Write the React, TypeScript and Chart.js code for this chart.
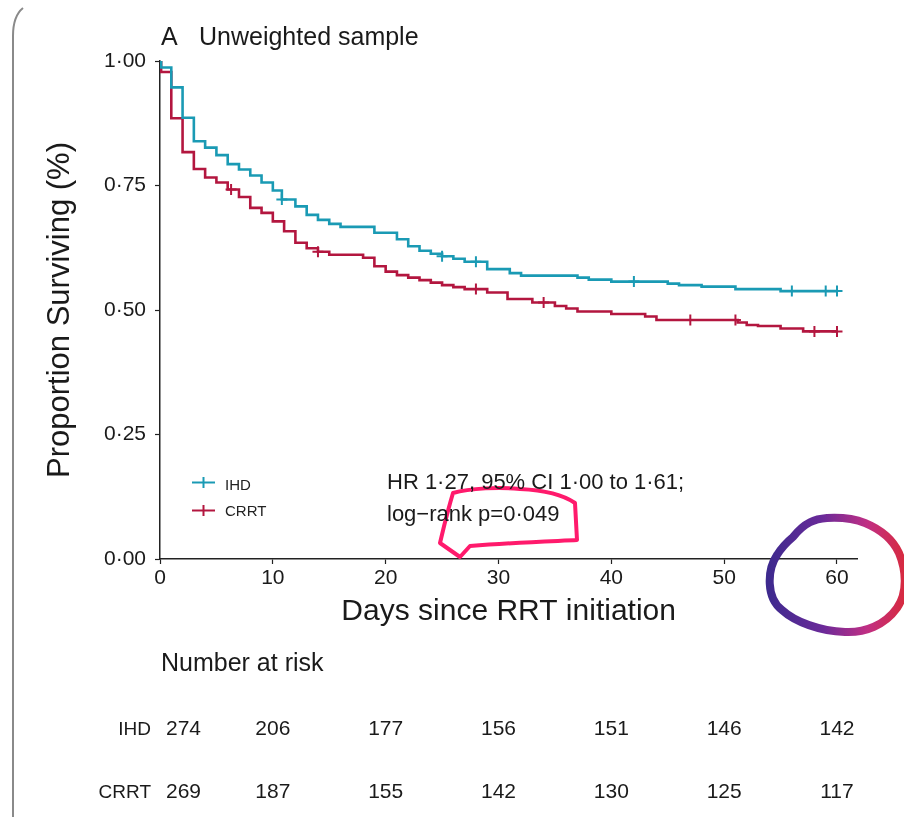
import React, { useEffect, useRef, useState } from "react";
import { Chart, registerables } from "chart.js";

Chart.register(...registerables);

// ---- data ----
const ihdDays = [0, 0.1, 1, 2, 3, 4, 5, 6, 7, 8, 9, 10, 10.8, 12, 13, 14, 15, 16, 19, 21, 22, 23, 24, 25, 26, 27, 29, 31, 32, 37, 38, 40, 45, 46, 48, 51, 55, 60];
const ihdSurv = [1.0, 0.987, 0.947, 0.886, 0.839, 0.826, 0.811, 0.793, 0.782, 0.77, 0.756, 0.74, 0.722, 0.708, 0.691, 0.681, 0.673, 0.667, 0.655, 0.642, 0.628, 0.619, 0.613, 0.608, 0.603, 0.597, 0.582, 0.574, 0.569, 0.565, 0.561, 0.557, 0.553, 0.55, 0.547, 0.542, 0.538, 0.538];
const ihdCensor = [10.8, 25, 28, 42, 56, 59, 60];

const crrtDays = [0, 0.1, 1, 2, 3, 4, 5, 6, 7, 8, 9, 10, 11, 12, 13, 14, 15, 18, 19, 20, 21, 22, 23, 24, 25, 26, 27, 29, 30.8, 33, 35, 36, 37, 40, 43, 44, 51.2, 52, 53, 55, 57, 60];
const crrtSurv = [1.0, 0.978, 0.885, 0.817, 0.783, 0.766, 0.756, 0.742, 0.727, 0.705, 0.695, 0.678, 0.658, 0.635, 0.624, 0.617, 0.611, 0.605, 0.588, 0.577, 0.57, 0.565, 0.56, 0.555, 0.55, 0.546, 0.542, 0.535, 0.522, 0.515, 0.508, 0.503, 0.497, 0.492, 0.487, 0.48, 0.475, 0.47, 0.468, 0.463, 0.457, 0.457];
const crrtCensor = [6.3, 14, 28, 34, 47, 51, 58, 60];

const xTicks = [0, 10, 20, 30, 40, 50, 60];
const yTicks = [0, 0.25, 0.5, 0.75, 1];

const riskDays = [0, 10, 20, 30, 40, 50, 60];
const riskIHD = [274, 206, 177, 156, 151, 146, 142];
const riskCRRT = [269, 187, 155, 142, 130, 125, 117];

const TEAL = "#1a9ab4";
const RED = "#b3163f";
const INK = "#1a1a1a";
const FONT = "'Liberation Sans', Arial, Helvetica, sans-serif";

function survAt(days: number[], surv: number[], t: number) {
  let v = surv[0];
  for (let i = 0; i < days.length; i++) if (days[i] <= t) v = surv[i];
  return v;
}

function T(props: { x: number; base: number; size: number; align?: "left" | "center" | "right"; color?: string; children: React.ReactNode }) {
  const { x, base, size, align = "left", color = INK, children } = props;
  const tx = align === "center" ? "translateX(-50%)" : align === "right" ? "translateX(-100%)" : "none";
  return (
    <div
      style={{
        position: "absolute",
        left: x,
        top: base - size * 0.8465,
        fontSize: size,
        lineHeight: `${size}px`,
        whiteSpace: "nowrap",
        color,
        transform: tx,
        fontFamily: FONT,
      }}
    >
      {children}
    </div>
  );
}

export default function App() {
  const ref = useRef<HTMLCanvasElement | null>(null);
  const [xs, setXs] = useState<number[]>([]);

  useEffect(() => {
    if (!ref.current) return;
    const tickFont = { family: FONT, size: 21 };
    const chart = new Chart(ref.current, {
      type: "line",
      data: {
        datasets: [
          {
            label: "IHD",
            data: ihdDays.map((d, i) => ({ x: d, y: ihdSurv[i] })),
            borderColor: TEAL,
            borderWidth: 2.6,
            stepped: "before",
            pointRadius: 0,
            fill: false,
          },
          {
            label: "CRRT",
            data: crrtDays.map((d, i) => ({ x: d, y: crrtSurv[i] })),
            borderColor: RED,
            borderWidth: 2.6,
            stepped: "before",
            pointRadius: 0,
            fill: false,
          },
          {
            label: "IHD censored",
            data: ihdCensor.map((t) => ({ x: t, y: survAt(ihdDays, ihdSurv, t) })),
            showLine: false,
            pointStyle: "cross",
            pointRadius: 5.5,
            borderColor: TEAL,
            borderWidth: 2,
          },
          {
            label: "CRRT censored",
            data: crrtCensor.map((t) => ({ x: t, y: survAt(crrtDays, crrtSurv, t) })),
            showLine: false,
            pointStyle: "cross",
            pointRadius: 5.5,
            borderColor: RED,
            borderWidth: 2,
          },
        ],
      },
      options: {
        responsive: false,
        animation: false,
        events: [],
        layout: { padding: { left: 0, top: 61, right: 46.7, bottom: 0 } },
        plugins: { legend: { display: false }, tooltip: { enabled: false }, title: { display: false } },
        scales: {
          x: {
            type: "linear",
            min: 0,
            max: 61.8,
            afterBuildTicks: (s: any) => {
              s.ticks = xTicks.map((v) => ({ value: v }));
            },
            afterFit: (s: any) => {
              s.height = 258;
            },
            ticks: { font: tickFont, color: INK, padding: 2, maxRotation: 0, autoSkip: false },
            grid: { drawOnChartArea: false, drawTicks: true, tickLength: 5, tickColor: "#222", tickWidth: 1.2 },
            border: { display: true, color: "#222", width: 1.5 },
            title: {
              display: true,
              text: "Days since RRT initiation",
              font: { family: FONT, size: 30 },
              color: INK,
              padding: { top: 0, bottom: 187 },
            },
          },
          y: {
            type: "linear",
            min: 0,
            max: 1,
            afterBuildTicks: (s: any) => {
              s.ticks = yTicks.map((v) => ({ value: v }));
            },
            afterFit: (s: any) => {
              s.width = 160;
            },
            ticks: {
              font: tickFont,
              color: INK,
              padding: 9,
              callback: (v: any) => Number(v).toFixed(2).replace(".", "\u00b7"),
            },
            grid: { drawOnChartArea: false, drawTicks: true, tickLength: 5, tickColor: "#222", tickWidth: 1.2 },
            border: { display: true, color: "#222", width: 1.5 },
            title: {
              display: true,
              text: "Proportion Surviving (%)",
              font: { family: FONT, size: 31 },
              color: INK,
              padding: { top: 42, bottom: 0 },
            },
          },
        },
      } as any,
    });
    const sx = chart.scales.x;
    setXs(riskDays.map((d) => sx.getPixelForValue(d)));
    return () => chart.destroy();
  }, []);

  return (
    <div style={{ position: "fixed", left: 0, top: 0, width: 904, height: 817, background: "#fff", overflow: "hidden", fontFamily: FONT }}>
      <canvas ref={ref} width={904} height={817} style={{ position: "absolute", left: 0, top: 0, width: 904, height: 817 }} />

      <svg width={904} height={817} style={{ position: "absolute", left: 0, top: 0, pointerEvents: "none" }}>
        <defs>
          <linearGradient id="ring" gradientUnits="userSpaceOnUse" x1={767} y1={0} x2={906} y2={0}>
            <stop offset="0" stopColor="#3d2a8e" />
            <stop offset="0.4" stopColor="#6a2a99" />
            <stop offset="0.72" stopColor="#c02f84" />
            <stop offset="1" stopColor="#d82a3c" />
          </linearGradient>
        </defs>
        {/* page frame */}
        <path d="M 13 817 L 13 36 Q 13 16 23 8" fill="none" stroke="#8a8a8a" strokeWidth={2} />
        {/* legend keys */}
        <line x1={192} y1={482.5} x2={215} y2={482.5} stroke={TEAL} strokeWidth={2} />
        <line x1={203.5} y1={477} x2={203.5} y2={488} stroke={TEAL} strokeWidth={2} />
        <line x1={192} y1={510.5} x2={215} y2={510.5} stroke={RED} strokeWidth={2} />
        <line x1={203.5} y1={505} x2={203.5} y2={516} stroke={RED} strokeWidth={2} />
        {/* hand-drawn pink highlight */}
        <path
          d="M 453 493 C 470 488, 500 487, 520 489 C 540 490, 562 494, 575 503 L 577 540 C 560 541, 520 542, 470 546 L 460 557 L 440 543 C 443 530, 448 510, 453 493 Z"
          fill="none"
          stroke="#ff1a6c"
          strokeWidth={4}
          strokeLinejoin="round"
        />
        {/* hand-drawn ring */}
        <path
          d="M 793 537 C 805 522, 815 519, 827 518 C 845 517, 855 519, 865 523 C 882 530, 893 540, 899 553 C 906 570, 908 592, 897 608 C 885 625, 865 633, 845 632 C 820 631, 795 622, 782 610 C 766 598, 767 570, 777 555 C 782 547, 787 542, 793 537 Z"
          fill="none"
          stroke="url(#ring)"
          strokeWidth={8}
        />
      </svg>

      <T x={161} base={45} size={25}>A</T>
      <T x={199} base={45} size={25}>Unweighted sample</T>

      <T x={225} base={489.5} size={15} color="#222">IHD</T>
      <T x={225} base={516} size={15} color="#222">CRRT</T>

      <T x={387} base={490} size={22}>HR 1·27, 95% CI 1·00 to 1·61;</T>
      <T x={387} base={521.5} size={22}>log−rank p=0·049</T>

      <T x={161} base={671} size={25}>Number at risk</T>
      <T x={151} base={735} size={19} align="right">IHD</T>
      <T x={151} base={798} size={19} align="right">CRRT</T>
      {xs.length > 0 &&
        riskIHD.map((n, i) => (
          <T key={"i" + i} x={i === 0 ? xs[i] + 6 : xs[i]} base={735} size={21} align={i === 0 ? "left" : "center"}>
            {n}
          </T>
        ))}
      {xs.length > 0 &&
        riskCRRT.map((n, i) => (
          <T key={"c" + i} x={i === 0 ? xs[i] + 6 : xs[i]} base={798} size={21} align={i === 0 ? "left" : "center"}>
            {n}
          </T>
        ))}
    </div>
  );
}
